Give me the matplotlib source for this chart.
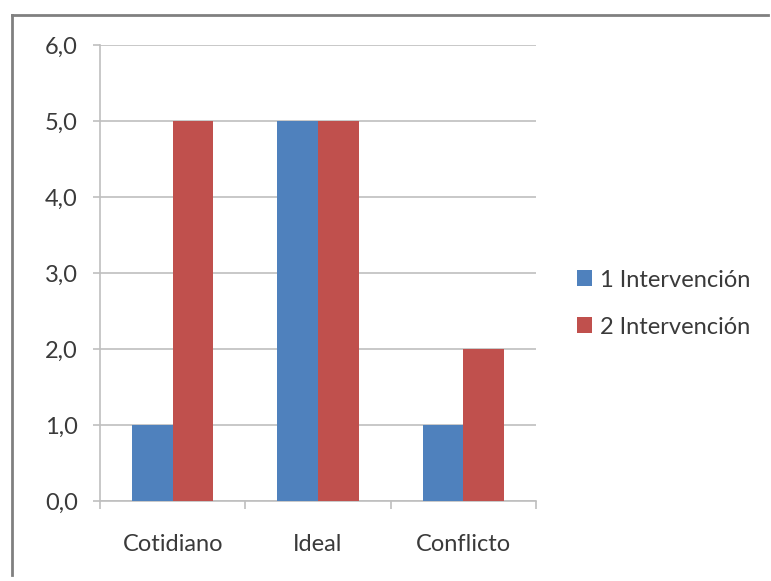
from matplotlib import pyplot as plt
from matplotlib.lines import Line2D
import numpy as np

categories = ['Cotidiano', 'Ideal', 'Conflicto']
serie_1 = [1.0, 5.0, 1.0]
serie_2 = [5.0, 5.0, 2.0]
series_names = ['1 Intervención', '2 Intervención']
y_ticks = [0, 1, 2, 3, 4, 5, 6]

plt.rcParams['font.family'] = ['Lato', 'DejaVu Sans']
txt = '#3A3A3A'
fs = 17

fig = plt.figure(figsize=(7.71, 5.81), dpi=100)
ax = fig.add_axes([100 / 771, 80 / 581, 436 / 771, 456 / 581])

x = np.arange(len(categories))
w = 0.28
ax.bar(x - w / 2, serie_1, w, color='#4F81BD', label=series_names[0], zorder=3)
ax.bar(x + w / 2, serie_2, w, color='#C0504D', label=series_names[1], zorder=3)

ax.set_xlim(-0.5, 2.5)
ax.set_ylim(0, 6)
ax.set_yticks(y_ticks)
ax.set_yticklabels(['{:.1f}'.format(v).replace('.', ',') for v in y_ticks],
                   fontsize=fs, color=txt)
ax.yaxis.grid(True, color='#BFBFBF', linewidth=1.2, zorder=0)

# category labels centered, tick marks on the boundaries
ax.set_xticks(x)
ax.set_xticklabels(categories, fontsize=fs, color=txt)
ax.tick_params(axis='x', length=0, pad=24)
ax.set_xticks([-0.5, 0.5, 1.5, 2.5], minor=True)
ax.tick_params(axis='x', which='minor', length=6, color='#BFBFBF', width=1.2)
ax.tick_params(axis='y', length=5, color='#BFBFBF', width=1.2, pad=11)

for side in ['top', 'right']:
    ax.spines[side].set_visible(False)
for side in ['left', 'bottom']:
    ax.spines[side].set_color('#BFBFBF')
    ax.spines[side].set_linewidth(1.2)

ax.legend(loc='center left', bbox_to_anchor=(1.045, 0.433), frameon=False,
          fontsize=fs, handlelength=0.65, handleheight=0.65, handletextpad=0.35,
          labelspacing=1.1, labelcolor=txt)

# outer frame (top and left edges)
fig.add_artist(Line2D([12 / 771, 768 / 771], [1 - 15 / 581, 1 - 15 / 581],
                      color='#808080', linewidth=2, transform=fig.transFigure))
fig.add_artist(Line2D([12 / 771, 12 / 771], [1 - 15 / 581, 1 - 575 / 581],
                      color='#808080', linewidth=2, transform=fig.transFigure))

fig.savefig('out.png', dpi=100)
